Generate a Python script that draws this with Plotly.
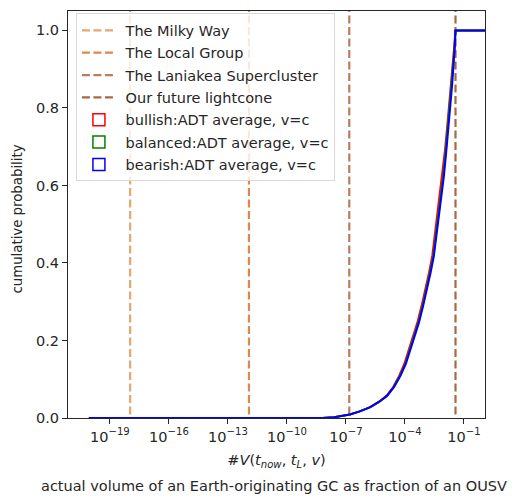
import plotly.graph_objects as go

# Reference scales (log10 of the volume fraction)
scale_names = ["The Milky Way", "The Local Group", "The Laniakea Supercluster", "Our future lightcone"]
scale_log10 = [-17.97, -11.93, -6.83, -1.43]
scale_colors = ["rgb(226,168,112)", "rgb(222,136,78)", "rgb(184,124,94)", "rgb(166,106,70)"]

# Cumulative curves (log10 of volume fraction, probability)
bearish_log10 = [-20.07, -8.2, -7.6, -6.8, -6.3, -5.76, -5.3, -4.91, -4.55, -4.23, -3.95,
                 -3.72, -3.5, -3.29, -3.08, -2.87, -2.7, -2.53, -2.4, -2.28, -2.15,
                 -2.02, -1.89, -1.75, -1.6, -1.47, -1.43, 0.6]
bearish_prob = [0.0, 0.0, 0.002, 0.009, 0.017, 0.028, 0.042, 0.057, 0.08, 0.109, 0.14,
                0.178, 0.21, 0.246, 0.288, 0.332, 0.374, 0.418, 0.47, 0.521, 0.572,
                0.624, 0.693, 0.77, 0.86, 0.955, 1.0, 1.0]
balanced_log10 = [-20.07, -8.2, -7.6, -6.8, -6.3, -5.76, -5.3, -4.92, -4.57, -4.25, -3.98,
                  -3.75, -3.53, -3.32, -3.11, -2.9, -2.73, -2.56, -2.43, -2.31, -2.18,
                  -2.05, -1.92, -1.78, -1.62, -1.48, -1.43, 0.6]
balanced_prob = bearish_prob
bullish_log10 = [-20.07, -8.2, -7.6, -6.8, -6.3, -5.77, -5.32, -4.94, -4.6, -4.29, -4.03,
                 -3.8, -3.58, -3.37, -3.16, -2.95, -2.78, -2.61, -2.48, -2.36, -2.23,
                 -2.1, -1.96, -1.82, -1.65, -1.5, -1.43, 0.6]
bullish_prob = bearish_prob

curves = [
    ("bullish:ADT average, v=c", bullish_log10, bullish_prob, "rgb(255,0,0)"),
    ("balanced:ADT average, v=c", balanced_log10, balanced_prob, "rgb(0,128,0)"),
    ("bearish:ADT average, v=c", bearish_log10, bearish_prob, "rgb(0,0,255)"),
]

tick_exps = [-19, -16, -13, -10, -7, -4, -1]
ink = "#262626"
fs = 14.5
pad = "\u00a0"  # small gap between legend handle and label

fig = go.Figure()

for name, lg, col in zip(scale_names, scale_log10, scale_colors):
    fig.add_trace(go.Scatter(
        x=[10 ** lg, 10 ** lg], y=[-1, 2], mode="lines", name=pad + name,
        line=dict(color=col, width=2.2, dash="8px,3.5px"),
        legendgroup=name, hoverinfo="skip"))

for name, xs, ys, col in curves:
    fig.add_trace(go.Scatter(
        x=[10 ** v for v in xs], y=ys, mode="lines", name=name,
        line=dict(color=col, width=2), showlegend=False))
    # legend entry drawn as an outlined patch, kept outside the visible range
    fig.add_shape(type="rect", xref="x", yref="y", x0=1e-10, x1=1e-9, y0=5, y1=6,
                  line=dict(color=col, width=1.5), fillcolor="rgba(0,0,0,0)",
                  showlegend=True, name=pad + name, legendgroup=name)

fig.add_annotation(text="cumulative probability", xref="paper", yref="paper",
                   x=-0.12, y=0.49, xanchor="center", yanchor="middle",
                   textangle=-90, showarrow=False, font=dict(size=13.3, color=ink))
fig.add_annotation(text="actual volume of an Earth-originating GC as fraction of an OUSV",
                   xref="paper", yref="paper", x=0.494, y=-0.167,
                   xanchor="center", yanchor="middle", showarrow=False,
                   font=dict(size=fs, color=ink))

fig.update_xaxes(
    type="log", range=[-21.13, 0.07],
    tickvals=[10 ** e for e in tick_exps],
    ticktext=["10<sup>\u2212%d</sup>" % (-e) for e in tick_exps],
    ticks="outside", ticklen=5, tickcolor=ink, showgrid=False, zeroline=False,
    showline=True, linecolor=ink, linewidth=1.2, mirror=True,
    tickfont=dict(size=fs, color=ink),
    title=dict(text="#<i>V</i>(<i>t</i><sub><i>now</i></sub>, <i>t</i><sub><i>L</i></sub>, <i>v</i>)",
               font=dict(size=fs, color=ink), standoff=11))
fig.update_yaxes(
    range=[0, 1.05], tickvals=[0, 0.2, 0.4, 0.6, 0.8, 1.0],
    ticktext=["0.0", "0.2", "0.4", "0.6", "0.8", "1.0"],
    ticks="outside", ticklen=5, tickcolor=ink, showgrid=False, zeroline=False,
    showline=True, linecolor=ink, linewidth=1.2, mirror=True,
    tickfont=dict(size=fs, color=ink))

# the page body has an 8px margin, so the figure is 16px smaller than the window
fig.update_layout(
    width=510, height=486,
    margin=dict(l=60, r=33, t=3, b=76),
    plot_bgcolor="white", paper_bgcolor="white",
    font=dict(family="DejaVu Sans", size=fs, color=ink),
    legend=dict(x=0.019, y=0.994, xanchor="left", yanchor="top",
                bgcolor="rgba(255,255,255,0.8)", bordercolor="#d9d9d9", borderwidth=1,
                font=dict(size=fs), tracegroupgap=0.5, itemwidth=34),
)

fig.write_html("out.html")
